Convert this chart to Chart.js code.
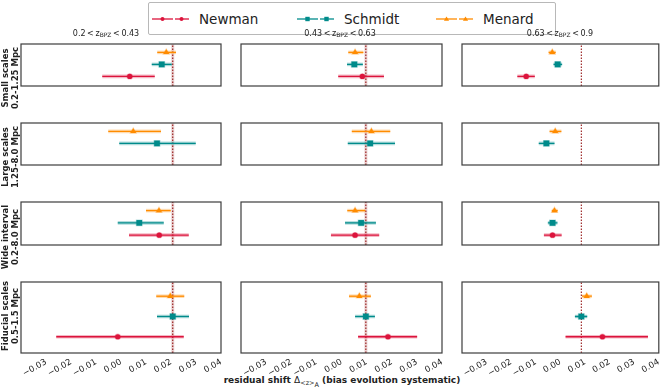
<!DOCTYPE html>
<html>
<head>
<meta charset="utf-8">
<script src="https://cdn.jsdelivr.net/npm/chart.js@4.4.0/dist/chart.umd.min.js"></script>
<style>
  body { margin: 0; width: 664px; height: 389px; position: relative; overflow: hidden; background: #fff;
         font-family: "DejaVu Sans", sans-serif; color: #222; }
  canvas.panel { position: absolute; left: 0; top: 0; }
  #legend { position: absolute; left: 148px; top: 2px; width: 406px; height: 31px;
            border: 1px solid #b8b8b8; border-radius: 2px; }
  .lg-item { position: absolute; top: 0; height: 31px; display: flex; align-items: center; font-size: 13.5px; }
  .lg-item svg { margin-right: 10px; }
  .col-title { position: absolute; top: 29px; font-size: 8px; white-space: nowrap; transform: translateX(-50%); }
  .col-title sub { font-size: 6px; vertical-align: -1px; }
  .row-label { position: absolute; font-weight: bold; font-size: 8.5px; line-height: 9.5px; text-align: center;
               white-space: nowrap; transform: translate(-50%, -50%) rotate(-90deg); }
  #xlabel { position: absolute; top: 375px; left: 342px; transform: translateX(-50%); font-weight: bold;
            font-size: 9px; white-space: nowrap; }
  #xlabel .m { font-weight: normal; }
  #xlabel sub { font-size: 6.5px; vertical-align: -2px; }
</style>
</head>
<body>
<div id="legend"></div>
<div id="xlabel">residual shift <span class="m">&Delta;<sub>&lt;z&gt;<sub>A</sub></sub></span> (bias evolution systematic)</div>

<script>
// ---- data ----------------------------------------------------------------
const surveys = ["Newman", "Schmidt", "Menard"];
const columnTitles = [["0.2", "0.43"], ["0.43", "0.63"], ["0.63", "0.9"]];
const rowLabels = [
  ["Small scales", "0.2-1.25 Mpc"],
  ["Large scales", "1.25-8.0 Mpc"],
  ["Wide interval", "0.2-8.0 Mpc"],
  ["Fiducial scales", "0.5-1.5 Mpc"],
];
const xTicks = [-0.04, -0.03, -0.02, -0.01, 0.0, 0.01, 0.02, 0.03, 0.04];

// reference shift per redshift bin (dotted vertical line)
const refShift = [0.0207, 0.0097, 0.0085];

// [row][column]; null = no measurement
const newmanMid = [[0.0035, 0.0083, -0.0139], [null, null, null], [0.0153, 0.0054, -0.0032], [-0.0013, 0.0185, 0.0171]];
const newmanLo  = [[-0.0075, -0.0013, -0.0175], [null, null, null], [0.0032, -0.0042, -0.0067], [-0.0259, 0.0066, 0.0021]];
const newmanHi  = [[0.0135, 0.0169, -0.0104], [null, null, null], [0.0271, 0.0150, 0.0005], [0.0251, 0.0301, 0.0356]];

const schmidtMid = [[0.0163, 0.0051, -0.0011], [0.0144, 0.0114, -0.0057], [0.0073, 0.0078, -0.0032], [0.0207, 0.0097, 0.0085]];
const schmidtLo  = [[0.0123, 0.0022, -0.0028], [-0.0007, 0.0025, -0.0088], [-0.0013, 0.0014, -0.0051], [0.0144, 0.0054, 0.0059]];
const schmidtHi  = [[0.0203, 0.0085, 0.0007], [0.0299, 0.0213, -0.0024], [0.0171, 0.0137, -0.0012], [0.0272, 0.0133, 0.0109]];

const menardMid = [[0.0181, 0.0054, -0.0033], [0.0049, 0.0119, -0.0021], [0.0152, 0.0054, -0.0024], [0.0197, 0.0071, 0.0107]];
const menardLo  = [[0.0145, 0.0027, -0.0048], [-0.0051, 0.0041, -0.0044], [0.0100, 0.0023, -0.0035], [0.0141, 0.0030, 0.0088]];
const menardHi  = [[0.0220, 0.0087, -0.0019], [0.0160, 0.0194, 0.0004], [0.0199, 0.0095, -0.0011], [0.0253, 0.0117, 0.0128]];

// ---- styling / layout ----------------------------------------------------
const W = 664, H = 389;
const colLeft = [21, 241, 462], colRight = [221, 442, 662];
const rowTop = [44, 123, 202, 282], rowBottom = [116, 195, 275, 353];
const XAXIS_H = 30;

const seriesStyle = {
  Newman:  { color: "#dc143c", halo: "rgba(220,20,60,0.30)",  point: "circle",   radius: 2.6, y: 0 },
  Schmidt: { color: "#008b8b", halo: "rgba(0,139,139,0.30)",  point: "rect",     radius: 4.0, y: 1 },
  Menard:  { color: "#ff8c00", halo: "rgba(255,140,0,0.30)",  point: "triangle", radius: 3.4, y: 2 },
};
const seriesData = {
  Newman:  [newmanMid, newmanLo, newmanHi],
  Schmidt: [schmidtMid, schmidtLo, schmidtHi],
  Menard:  [menardMid, menardLo, menardHi],
};

function fmtTick(v) {
  if (v < -0.035) return "";
  const s = Math.abs(v).toFixed(2);
  return (v < -1e-9 ? "\u2212" : "") + s;
}

const framePlugin = {
  id: "frame",
  afterDraw(chart) {
    const a = chart.chartArea, ctx = chart.ctx;
    ctx.save();
    ctx.strokeStyle = "#3c3c3c";
    ctx.lineWidth = 1.2;
    ctx.strokeRect(a.left, a.top, a.right - a.left, a.bottom - a.top);
    ctx.restore();
  },
};

function buildDatasets(r, c) {
  const sets = [];
  const ref = refShift[c];
  sets.push({
    type: "line", data: [{ x: ref, y: -0.8 }, { x: ref, y: 2.7 }],
    borderColor: "#8b0000", borderWidth: 1, borderDash: [1.5, 1.5], pointRadius: 0, order: 9,
  });
  if (c < 2) {
    sets.push({
      type: "line", data: [{ x: ref, y: -0.8 }, { x: ref, y: 2.7 }],
      borderColor: "rgba(139,0,0,0.18)", borderWidth: 3, pointRadius: 0, order: 10,
    });
  }
  surveys.forEach((name) => {
    const st = seriesStyle[name];
    const [mid, lo, hi] = seriesData[name];
    if (mid[r][c] == null) return;
    const seg = [{ x: lo[r][c], y: st.y }, { x: hi[r][c], y: st.y }];
    sets.push({ type: "line", label: name, data: seg, borderColor: st.halo, borderWidth: 3.6,
                pointRadius: 0, order: 5 });
    sets.push({ type: "line", label: name, data: seg, borderColor: st.color, borderWidth: 1.3,
                pointRadius: 0, order: 3 });
    sets.push({ type: "scatter", label: name, data: [{ x: mid[r][c], y: st.y }],
                pointStyle: st.point, pointRadius: st.radius, backgroundColor: st.color,
                borderColor: st.halo, borderWidth: 1.2, order: 1 });
  });
  return sets;
}

function makePanel(r, c) {
  const cv = document.createElement("canvas");
  cv.className = "panel";
  cv.width = W; cv.height = H;
  cv.style.width = W + "px"; cv.style.height = H + "px";
  document.body.appendChild(cv);
  const bottomRow = r === rowLabels.length - 1;

  new Chart(cv.getContext("2d"), {
    type: "scatter",
    data: { datasets: buildDatasets(r, c) },
    options: {
      responsive: false,
      animation: false,
      devicePixelRatio: 1,
      layout: {
        padding: {
          left: colLeft[c],
          right: W - colRight[c],
          top: rowTop[r],
          bottom: H - rowBottom[r] - (bottomRow ? XAXIS_H : 0),
        },
      },
      plugins: { legend: { display: false }, tooltip: { enabled: false } },
      scales: {
        x: {
          type: "linear",
          min: xTicks[0],
          max: xTicks[xTicks.length - 1],
          display: bottomRow,
          afterBuildTicks: (scale) => { scale.ticks = xTicks.map((v) => ({ value: v })); },
          afterFit: (scale) => {
            scale.height = XAXIS_H;
            scale.paddingLeft = 0;
            scale.paddingRight = 0;
          },
          grid: { drawOnChartArea: false, drawTicks: false },
          border: { display: false },
          ticks: {
            autoSkip: false,
            minRotation: 30,
            maxRotation: 30,
            padding: 4,
            color: "#222",
            font: { family: "DejaVu Sans", size: 8.5 },
            callback: fmtTick,
          },
        },
        y: { type: "linear", min: -0.8, max: 2.7, display: false },
      },
    },
    plugins: [framePlugin],
  });
}

for (let r = 0; r < rowLabels.length; r++) {
  for (let c = 0; c < columnTitles.length; c++) makePanel(r, c);
}

// column titles
const titleCenters = [106, 340, 560];
columnTitles.forEach(([lo, hi], c) => {
  const d = document.createElement("div");
  d.className = "col-title";
  d.style.left = titleCenters[c] + "px";
  d.innerHTML = lo + "&thinsp;&lt;&thinsp;z<sub>BPZ</sub>&thinsp;&lt;&thinsp;" + hi;
  document.body.appendChild(d);
});

// row labels
rowLabels.forEach(([a, b], r) => {
  const d = document.createElement("div");
  d.className = "row-label";
  d.style.left = "10px";
  d.style.top = ((rowTop[r] + rowBottom[r]) / 2 - 2) + "px";
  d.innerHTML = a + "<br>" + b;
  document.body.appendChild(d);
});

// legend
const legend = document.getElementById("legend");
const legendX = [3, 148, 287];
surveys.forEach((name, i) => {
  const st = seriesStyle[name];
  const item = document.createElement("div");
  item.className = "lg-item";
  item.style.left = legendX[i] + "px";
  const mark = (cx) => {
    if (st.point === "circle") return `<circle cx="${cx}" cy="5" r="2" fill="${st.color}"/>`;
    if (st.point === "rect") return `<rect x="${cx - 2.2}" y="2.8" width="4.4" height="4.4" fill="${st.color}"/>`;
    return `<polygon points="${cx},2.4 ${cx + 2.6},6.8 ${cx - 2.6},6.8" fill="${st.color}"/>`;
  };
  item.innerHTML =
    `<svg width="37" height="10">` +
    `<line x1="0" y1="5" x2="21" y2="5" stroke="${st.color}" stroke-width="1.3"/>` +
    `<line x1="23" y1="5" x2="37" y2="5" stroke="${st.color}" stroke-width="1.3"/>` +
    mark(10.5) + mark(29.5) + `</svg>` + name;
  legend.appendChild(item);
});
</script>
</body>
</html>
